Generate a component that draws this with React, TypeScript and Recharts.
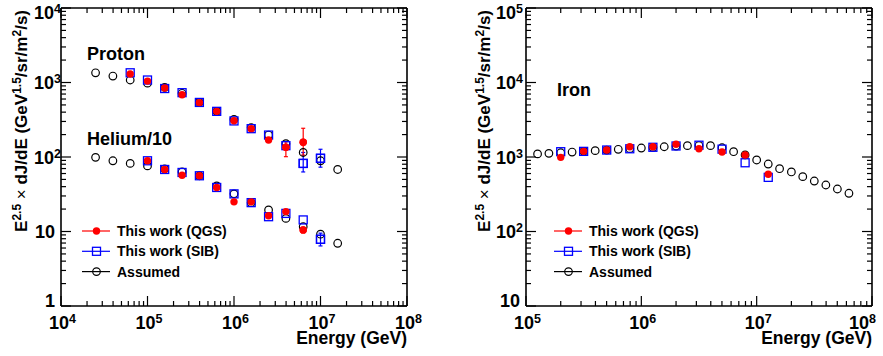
import React from 'react';
import { ScatterChart, Scatter, XAxis, YAxis, ErrorBar } from 'recharts';

const FONT = '"Liberation Sans", Arial, Helvetica, sans-serif';

// ---- left panel: proton and helium/10 ----
const leftE = [2.51e4, 3.98e4, 6.31e4, 1e5, 1.58e5, 2.51e5, 3.98e5, 6.31e5, 1e6, 1.58e6, 2.51e6, 3.98e6, 6.31e6, 1e7, 1.58e7];
const protonAssumed = [1350, 1220, 1080, 980, 860, 716, 540, 410, 320, 248, 197, 151, 115, 89, 68];
const protonQGS = [1300, 1045, 843, 686, 537, 410, 307, 240, 169, 135, 158]; // from 6.31e4
const protonSIB = [1350, 1080, 830, 730, 540, 410, 305, 240, 197, 142, 82, 96]; // from 6.31e4
const heliumAssumed = [99, 89, 82, 76, 69, 63, 56, 41, 32, 24.4, 19.5, 15, 11.6, 9.2, 6.95];
const heliumQGS = [89, 68, 57, 56, 39, 25, 25, 16.3, 18.5, 10.5]; // from 1e5
const heliumSIB = [89, 68, 62, 56, 39, 32, 24.4, 15.8, 17.5, 14.3, 7.85]; // from 1e5

// error bars: energy, value, low, high
const protonQGSErr = [
  { e: 3.98e6, v: 135, lo: 101, hi: 160 },
  { e: 6.31e6, v: 158, lo: 106, hi: 243 },
];
const protonSIBErr = [
  { e: 6.31e6, v: 82, lo: 63, hi: 115 },
  { e: 1e7, v: 96, lo: 73, hi: 127 },
];
const heliumQGSErr = [{ e: 6.31e6, v: 10.5, lo: 9.6, hi: 11.3 }];
const heliumSIBErr = [{ e: 1e7, v: 7.85, lo: 6.4, hi: 9.5 }];

// ---- right panel: iron ----
const ironE = [1.26e5, 1.58e5, 2e5, 2.51e5, 3.16e5, 3.98e5, 5.01e5, 6.31e5, 7.94e5, 1e6, 1.26e6, 1.58e6, 2e6, 2.51e6, 3.16e6, 3.98e6, 5.01e6, 6.31e6, 7.94e6, 1e7, 1.26e7, 1.58e7, 2e7, 2.51e7, 3.16e7, 3.98e7, 5.01e7, 6.31e7];
const ironAssumed = [1100, 1120, 1140, 1166, 1190, 1216, 1240, 1268, 1295, 1320, 1345, 1373, 1400, 1420, 1425, 1420, 1330, 1178, 1065, 912, 805, 697, 630, 545, 476, 421, 372, 326];
const ironMeasE = [2e5, 3.16e5, 5.01e5, 7.94e5, 1.26e6, 2e6, 3.16e6, 5.01e6, 7.94e6, 1.26e7];
const ironQGS = [990, 1190, 1240, 1373, 1373, 1480, 1290, 1166, 1065, 586];
const ironSIB = [1178, 1190, 1240, 1290, 1350, 1405, 1440, 1275, 837, 533];

const leftXMajors = [1e4, 1e5, 1e6, 1e7, 1e8];
const leftYMajors = [1, 10, 100, 1000, 10000];
const rightXMajors = [1e5, 1e6, 1e7, 1e8];
const rightYMajors = [10, 100, 1000, 1e4, 1e5];
const minorSteps = [2, 3, 4, 5, 6, 7, 8, 9];

const legendNames = ['This work (QGS)', 'This work (SIB)', 'Assumed'];

type Pt = { e: number; v: number; err?: number[] };
type Kind = 'qgs' | 'sib' | 'assumed';

const pts = (es: number[], vs: number[]): Pt[] => vs.map((v, i) => ({ e: es[i], v }));
const errPts = (list: { e: number; v: number; lo: number; hi: number }[]): Pt[] =>
  list.map((d) => ({ e: d.e, v: d.v, err: [d.v - d.lo, d.hi - d.v] }));

const withMinors = (majors: number[]) =>
  majors.flatMap((d, i) => (i < majors.length - 1 ? [d, ...minorSteps.map((m) => m * d)] : [d]));

const COLORS: Record<Kind, string> = { qgs: '#ff0000', sib: '#0000ff', assumed: '#000000' };

const HEIGHT = 356;
const PLOT_TOP = 8;
const PLOT_BOTTOM = 306;

function Marker({ kind, cx, cy }: { kind: Kind; cx: number; cy: number }) {
  if (kind === 'qgs') return <circle cx={cx} cy={cy} r={3.7} fill="#ff0000" />;
  if (kind === 'sib')
    return <rect x={cx - 4} y={cy - 4} width={8} height={8} fill="none" stroke="#0000ff" strokeWidth={1.3} />;
  return <circle cx={cx} cy={cy} r={3.8} fill="none" stroke="#000" strokeWidth={1.2} />;
}

function isMajor(v: number, majors: number[]) {
  return majors.some((m) => Math.abs(m - v) < 1e-6 * m);
}

function AxisTick(props: any) {
  const { x, y, payload, side, majors, gap, maxEnd } = props;
  const v = payload.value;
  const major = isMajor(v, majors);
  const len = major ? 10 : 5;
  const exp = Math.round(Math.log10(v));
  const textProps = { fontFamily: FONT, fontWeight: 'bold' as const, fill: '#000' };
  if (side === 'bottom') {
    const end = Math.min(x + 8, maxEnd ?? 9999);
    return (
      <g>
        <line x1={x} y1={y} x2={x} y2={y - len} stroke="#000" strokeWidth={1.2} />
        {major && (
          <>
            <text x={end} y={y + 22.5} textAnchor="end" fontSize={18} {...textProps}>10</text>
            <text x={end} y={y + 16.5} textAnchor="start" fontSize={12.5} {...textProps}>{exp}</text>
          </>
        )}
      </g>
    );
  }
  if (side === 'top') {
    return <line x1={x} y1={y} x2={x} y2={y + len} stroke="#000" strokeWidth={1.2} />;
  }
  if (side === 'right') {
    return <line x1={x} y1={y} x2={x - len} y2={y} stroke="#000" strokeWidth={1.2} />;
  }
  // left: edge labels are nudged inside the frame like the original
  let shift = 0;
  if (y < PLOT_TOP + 2) shift = 4.5;
  if (y > PLOT_BOTTOM - 2) shift = -5.5;
  const by = y + 6.5 + shift;
  return (
    <g>
      <line x1={x} y1={y} x2={x + len} y2={y} stroke="#000" strokeWidth={1.2} />
      {major &&
        (v < 100 ? (
          <text x={x - 6} y={by} textAnchor="end" fontSize={18} {...textProps}>{v}</text>
        ) : (
          <>
            <text x={x - gap} y={by} textAnchor="end" fontSize={18} {...textProps}>10</text>
            <text x={x - gap} y={by - 6} textAnchor="start" fontSize={12.5} {...textProps}>{exp}</text>
          </>
        ))}
    </g>
  );
}

type SeriesDef = { kind: Kind; data: Pt[]; err?: Pt[] };

type PanelProps = {
  left: number;
  width: number;
  plotLeft: number;
  plotRight: number;
  xDomain: [number, number];
  yDomain: [number, number];
  xMajors: number[];
  yMajors: number[];
  series: SeriesDef[];
  labels: { text: string; x: number; y: number }[];
  legendX: number;
  yTitleX: number;
  gap: number;
  maxEnd: number;
};

function Panel(p: PanelProps) {
  const axisLine = { stroke: '#000', strokeWidth: 1.6 };
  const xTicks = withMinors(p.xMajors);
  const yTicks = withMinors(p.yMajors);
  const tb = { fontFamily: FONT, fontWeight: 'bold' as const, fill: '#000' };
  return (
    <div style={{ position: 'absolute', left: p.left, top: 0, width: p.width, height: HEIGHT }}>
      <ScatterChart
        width={p.width}
        height={HEIGHT}
        margin={{ top: PLOT_TOP - 4, left: p.plotLeft - 20, right: p.width - p.plotRight - 10, bottom: HEIGHT - PLOT_BOTTOM - 20 }}
      >
        <XAxis
          xAxisId={0}
          dataKey="e"
          type="number"
          scale="log"
          domain={p.xDomain}
          allowDataOverflow
          ticks={xTicks}
          interval={0}
          height={20}
          tickSize={0}
          tickMargin={0}
          axisLine={axisLine}
          tickLine={false}
          tick={(t: any) => <AxisTick {...t} side="bottom" majors={p.xMajors} maxEnd={p.maxEnd} />}
        />
        <XAxis
          xAxisId="top"
          orientation="top"
          dataKey="e"
          type="number"
          scale="log"
          domain={p.xDomain}
          allowDataOverflow
          ticks={xTicks}
          interval={0}
          height={4}
          tickSize={0}
          tickMargin={0}
          axisLine={axisLine}
          tickLine={false}
          tick={(t: any) => <AxisTick {...t} side="top" majors={p.xMajors} />}
        />
        <YAxis
          yAxisId={0}
          dataKey="v"
          type="number"
          scale="log"
          domain={p.yDomain}
          allowDataOverflow
          ticks={yTicks}
          interval={0}
          width={20}
          tickSize={0}
          tickMargin={0}
          axisLine={axisLine}
          tickLine={false}
          tick={(t: any) => <AxisTick {...t} side="left" majors={p.yMajors} gap={p.gap} />}
        />
        <YAxis
          yAxisId="right"
          orientation="right"
          dataKey="v"
          type="number"
          scale="log"
          domain={p.yDomain}
          allowDataOverflow
          ticks={yTicks}
          interval={0}
          width={10}
          tickSize={0}
          tickMargin={0}
          axisLine={axisLine}
          tickLine={false}
          tick={(t: any) => <AxisTick {...t} side="right" majors={p.yMajors} />}
        />
        {p.series.map((s, i) => (
          <Scatter
            key={'s' + i}
            data={s.data}
            isAnimationActive={false}
            shape={(sp: any) => <Marker kind={s.kind} cx={sp.cx} cy={sp.cy} />}
          />
        ))}
        {p.series
          .filter((s) => s.err)
          .map((s, i) => (
            <Scatter
              key={'e' + i}
              data={s.err}
              isAnimationActive={false}
              shape={(sp: any) => <Marker kind={s.kind} cx={sp.cx} cy={sp.cy} />}
            >
              <ErrorBar dataKey="err" direction="y" width={2} stroke={COLORS[s.kind]} strokeWidth={1.2} isAnimationActive={false} />
            </Scatter>
          ))}
      </ScatterChart>
      <svg width={p.width} height={HEIGHT} style={{ position: 'absolute', left: 0, top: 0, pointerEvents: 'none' }}>
        {p.labels.map((l) => (
          <text key={l.text} x={l.x} y={l.y} fontSize={18} {...tb}>{l.text}</text>
        ))}
        <text
          x={p.yTitleX}
          y={10}
          transform={`rotate(-90 ${p.yTitleX} 10)`}
          textAnchor="end"
          fontSize={17}
          {...tb}
        >
          E<tspan dy={-6} fontSize={12}>2.5</tspan>
          <tspan dy={6} fontWeight="normal"> × </tspan>
          <tspan>dJ/dE (GeV</tspan>
          <tspan dy={-6} fontSize={12}>1.5</tspan>
          <tspan dy={6}>/sr/m</tspan>
          <tspan dy={-6} fontSize={12}>2</tspan>
          <tspan dy={6}>/s)</tspan>
        </text>
        <text x={p.plotRight} y={344} textAnchor="end" fontSize={17.5} {...tb}>Energy (GeV)</text>
        {(['qgs', 'sib', 'assumed'] as Kind[]).map((k, i) => {
          const cy = 231 + i * 20.3;
          return (
            <g key={k}>
              <line x1={p.legendX} y1={cy} x2={p.legendX + 28} y2={cy} stroke={COLORS[k]} strokeWidth={1.2} />
              <Marker kind={k} cx={p.legendX + 14.5} cy={cy} />
              <text x={p.legendX + 35} y={cy + 5} fontSize={14} {...tb}>{legendNames[i]}</text>
            </g>
          );
        })}
      </svg>
    </div>
  );
}

export default function App() {
  const leftSeries: SeriesDef[] = [
    { kind: 'assumed', data: pts(leftE, protonAssumed) },
    { kind: 'assumed', data: pts(leftE, heliumAssumed) },
    { kind: 'sib', data: pts(leftE.slice(2), protonSIB), err: errPts(protonSIBErr) },
    { kind: 'sib', data: pts(leftE.slice(3), heliumSIB), err: errPts(heliumSIBErr) },
    { kind: 'qgs', data: pts(leftE.slice(2), protonQGS), err: errPts(protonQGSErr) },
    { kind: 'qgs', data: pts(leftE.slice(3), heliumQGS), err: errPts(heliumQGSErr) },
  ];
  const rightSeries: SeriesDef[] = [
    { kind: 'assumed', data: pts(ironE, ironAssumed) },
    { kind: 'sib', data: pts(ironMeasE, ironSIB) },
    { kind: 'qgs', data: pts(ironMeasE, ironQGS) },
  ];
  return (
    <div style={{ position: 'absolute', left: 0, top: 0, width: 883, height: 356, background: '#fff', overflow: 'hidden' }}>
      <Panel
        left={0}
        width={440}
        plotLeft={61}
        plotRight={407}
        xDomain={[1e4, 1e8]}
        yDomain={[1, 1e4]}
        xMajors={leftXMajors}
        yMajors={leftYMajors}
        series={leftSeries}
        labels={[
          { text: 'Proton', x: 87, y: 60 },
          { text: 'Helium/10', x: 87, y: 145 },
        ]}
        legendX={82}
        yTitleX={27}
        gap={7}
        maxEnd={432}
      />
      <Panel
        left={440}
        width={443}
        plotLeft={86}
        plotRight={432}
        xDomain={[1e5, 1e8]}
        yDomain={[10, 1e5]}
        xMajors={rightXMajors}
        yMajors={rightYMajors}
        series={rightSeries}
        labels={[{ text: 'Iron', x: 117, y: 96 }]}
        legendX={114}
        yTitleX={50}
        gap={10}
        maxEnd={429}
      />
    </div>
  );
}
